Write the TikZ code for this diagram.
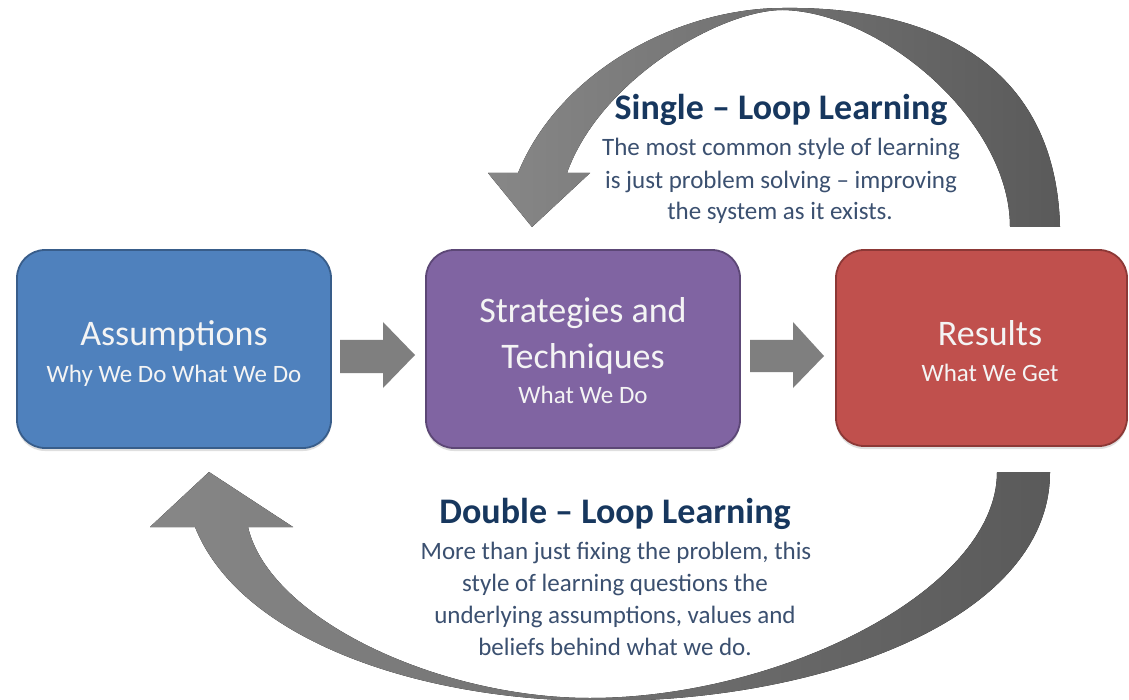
\documentclass[tikz,border=0pt]{standalone}
\usepackage{fontspec}
\setmainfont{Carlito}
\usetikzlibrary{shadows,calc}
\definecolor{boxblue}{HTML}{4F81BD}
\definecolor{boxblueb}{HTML}{385D8A}
\definecolor{boxpurple}{HTML}{8064A2}
\definecolor{boxpurpleb}{HTML}{5C4776}
\definecolor{boxred}{HTML}{C0504D}
\definecolor{boxredb}{HTML}{8C3836}
\definecolor{arrowgray}{HTML}{7F7F7F}
\definecolor{arrowlight}{HTML}{878787}
\definecolor{arrowdark}{HTML}{5A5A5A}
\definecolor{titleblue}{HTML}{17375E}
\definecolor{bodyblue}{HTML}{3B5070}
\definecolor{boxtext}{HTML}{F4F4F4}
\tikzset{
  box/.style={rounded corners=28pt, line width=1.8pt, minimum width=314pt,
    minimum height=198pt, inner sep=0pt,
    drop shadow={opacity=0.25, shadow xshift=0pt, shadow yshift=-3pt}},
  boxtitle/.style={anchor=base, inner sep=0pt, text=boxtext, font=\fontsize{36}{40}\selectfont},
  boxsub/.style={anchor=base, inner sep=0pt, text=boxtext, font=\fontsize{25}{30}\selectfont},
  looptitle/.style={anchor=base, inner sep=0pt, text=titleblue, font=\bfseries\fontsize{36}{40}\selectfont},
  loopbody/.style={anchor=base, inner sep=0pt, text=bodyblue, font=\fontsize{25}{30}\selectfont},
  blockarrow/.style={fill=arrowgray},
  looparrow/.style={left color=arrowlight, right color=arrowdark},
}
\begin{document}
\begin{tikzpicture}[x=1pt,y=-1pt]
\useasboundingbox (0,0) rectangle (1129,700);
\fill[white] (0,0) rectangle (1129,700);

% boxes
\node[box, fill=boxblue, draw=boxblueb] (A) at (174,349) {};
\node[box, fill=boxpurple, draw=boxpurpleb] (S) at (583,349) {};
\node[box, fill=boxred, draw=boxredb, minimum width=291pt, minimum height=196pt] (R) at (981.5,348) {};

% single loop: from Results back to Strategies
\coordinate (st1) at (1060,227);
\coordinate (st2) at (1010,227);
\fill[looparrow] (st1) .. controls (1056,70) and (940,6) .. (783,8)
  .. controls (680,8) and (560,70) .. (518,173)
  -- (488,173) -- (532,227) -- (590,173) -- (567,173)
  .. controls (600,80) and (720,10) .. (783,10)
  .. controls (880,12) and (1010,120) .. (st2) -- cycle;

% double loop: from Results back to Assumptions
\coordinate (dt1) at (1050,472);
\coordinate (dt2) at (997,472);
\fill[looparrow] (dt1) .. controls (1050,620) and (820,702) .. (600,701)
  .. controls (420,701) and (240,640) .. (195,527)
  -- (150,527) -- (209,472) -- (293,527) -- (248,527)
  .. controls (270,620) and (440,698) .. (590,698)
  .. controls (780,698) and (997,590) .. (dt2) -- cycle;

% block arrows
\fill[blockarrow] (340,340) -- (383,340) -- (383,322) -- (415,355) -- (383,388) -- (383,373) -- (340,373) -- cycle;
\fill[blockarrow] (750,340) -- (793,340) -- (793,322) -- (824,356) -- (793,388) -- (793,372) -- (750,372) -- cycle;

% box texts
\node[boxtitle] (At) at (174,345) {Assumptions};
\node[boxsub] (As) at (174,382) {Why We Do What We Do};
\node[boxtitle] (St1) at (583,323) {Strategies and};
\node[boxtitle] (St2) at (583,368) {Techniques};
\node[boxsub] (Ss) at (583,403) {What We Do};
\node[boxtitle] (Rt) at (990,345) {Results};
\node[boxsub] (Rs) at (990,381) {What We Get};

% single loop text
\node[looptitle] (SLt) at (781,120) {Single – Loop Learning};
\node[loopbody] (SL1) at (781,156) {The most common style of learning};
\node[loopbody] (SL2) at (781,189) {is just problem solving – improving};
\node[loopbody] (SL3) at (780,220) {the system as it exists.};

% double loop text
\node[looptitle] (DLt) at (615,523) {Double – Loop Learning};
\node[loopbody] (DL1) at (616,559) {More than just fixing the problem, this};
\node[loopbody] (DL2) at (615,591) {style of learning questions the};
\node[loopbody] (DL3) at (615,623) {underlying assumptions, values and};
\node[loopbody] (DL4) at (615,655) {beliefs behind what we do.};
\end{tikzpicture}
\end{document}
